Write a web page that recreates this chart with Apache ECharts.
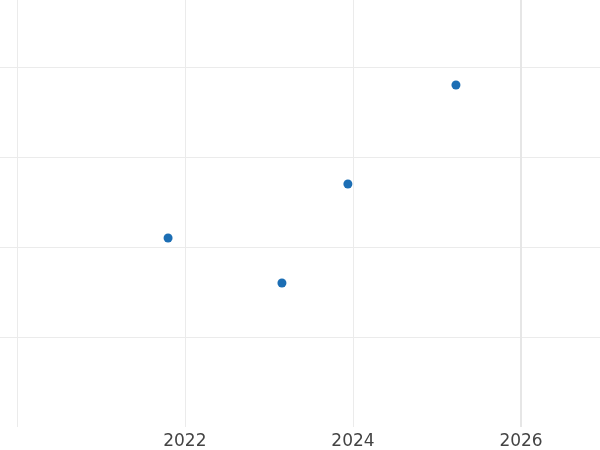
<!DOCTYPE html>
<html>
<head>
<meta charset="utf-8">
<script src="https://cdn.jsdelivr.net/npm/echarts@6/dist/echarts.min.js"></script>
<style>
  html, body { margin: 0; padding: 0; background: #fff; }
  #chart { width: 600px; height: 450px; }
</style>
</head>
<body>
<div id="chart"></div>
<script>
// decimal years and values
const years = [2021.8, 2023.155, 2023.94, 2025.226];
const values = [2.1, 1.6, 2.7, 3.8];
const tickLabels = ['2022', '2024', '2026'];
const todayYear = 2026;

const chart = echarts.init(document.getElementById('chart'));

chart.setOption({
  animation: false,
  grid: { left: 0, right: 0, top: 0, bottom: 23, containLabel: false },
  xAxis: {
    type: 'value',
    min: 2019.8,
    max: 2026.94,
    minInterval: 2,
    maxInterval: 2,
    axisLine: { show: false },
    axisTick: { show: false },
    axisLabel: {
      margin: 6,
      color: '#444',
      fontSize: 17,
      fontFamily: 'DejaVu Sans',
      showMinLabel: false,
      showMaxLabel: false,
      formatter: (v) => (tickLabels.indexOf(String(v)) >= 0 ? String(v) : '')
    },
    splitLine: { show: true, showMinLine: false, showMaxLine: false, lineStyle: { color: '#ebebeb', width: 1 } }
  },
  yAxis: {
    type: 'value',
    min: 0,
    max: 4.744,
    minInterval: 1,
    maxInterval: 1,
    axisLine: { show: false },
    axisTick: { show: false },
    axisLabel: { show: false },
    splitLine: { show: true, showMinLine: false, showMaxLine: false, lineStyle: { color: '#ebebeb', width: 1 } }
  },
  series: [
    {
      type: 'scatter',
      data: years.map((y, i) => [y, values[i]]),
      symbolSize: 9,
      itemStyle: { color: '#1c6eb4', opacity: 1 },
      markLine: {
        silent: true,
        symbol: 'none',
        label: { show: false },
        lineStyle: { color: '#e6e6e6', width: 2, type: 'solid' },
        data: [{ xAxis: todayYear }]
      }
    }
  ]
});
</script>
</body>
</html>
